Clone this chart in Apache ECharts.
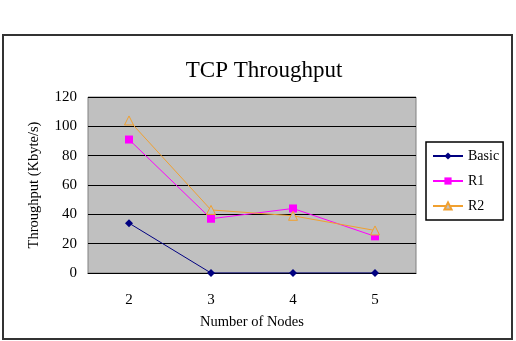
<!DOCTYPE html>
<html>
<head>
<meta charset="utf-8">
<script src="https://cdn.jsdelivr.net/npm/echarts@6/dist/echarts.min.js"></script>
<style>
  html, body { margin: 0; padding: 0; background: #fff; }
  #chart { width: 516px; height: 341px; }
</style>
</head>
<body>
<div id="chart"></div>
<script>
// 数据
const nodes = ['2', '3', '4', '5']
const basic = [34, 0, 0, 0]
const r1 = [91, 37, 44, 25]
const r2 = [104, 43, 39, 29]

const serif = '"Liberation Serif", "DejaVu Serif", serif'

const chart = echarts.init(document.getElementById('chart'))

chart.setOption({
  animation: false,
  backgroundColor: '#fff',
  textStyle: { fontFamily: serif, color: '#000' },
  title: {
    text: 'TCP Throughput',
    left: 259,
    top: 54,
    textAlign: 'center',
    textStyle: { fontFamily: serif, fontSize: 23, fontWeight: 'normal', color: '#000' }
  },
  // 外框
  graphic: [{
    type: 'rect',
    shape: { x: 3, y: 35, width: 509, height: 304 },
    style: { fill: 'none', stroke: '#333', lineWidth: 2 },
    z: 100
  }],
  legend: {
    orient: 'vertical',
    left: 426,
    top: 142,
    backgroundColor: '#fff',
    borderColor: '#000',
    borderWidth: 1.5,
    borderRadius: 0,
    padding: [7, 4, 7, 6],
    itemGap: 11,
    itemWidth: 30,
    itemHeight: 9,
    textStyle: { fontFamily: serif, fontSize: 14, color: '#000' },
    data: ['Basic', 'R1', 'R2']
  },
  grid: {
    left: 88,
    top: 97,
    right: 100,
    bottom: 68,
    show: true,
    backgroundColor: '#c0c0c0',
    borderColor: '#808080',
    borderWidth: 1
  },
  xAxis: {
    type: 'category',
    data: nodes,
    boundaryGap: true,
    name: 'Number of Nodes',
    nameLocation: 'middle',
    nameGap: 42,
    nameTextStyle: { fontFamily: serif, fontSize: 14.5, color: '#000' },
    axisLine: { lineStyle: { color: '#000', width: 1 } },
    axisTick: { inside: true, length: 5, alignWithLabel: false, lineStyle: { color: '#000' } },
    axisLabel: { margin: 20, fontFamily: serif, fontSize: 15, color: '#000' }
  },
  yAxis: {
    type: 'value',
    min: 0,
    max: 120,
    interval: 20,
    name: 'Throughput (Kbyte/s)',
    nameLocation: 'middle',
    nameGap: 46,
    nameTextStyle: { fontFamily: serif, fontSize: 14.5, color: '#000' },
    axisLine: { show: false },
    axisTick: { show: false },
    axisLabel: { margin: 11, fontFamily: serif, fontSize: 15, color: '#000' },
    splitLine: { show: true, lineStyle: { color: '#000', width: 1 } }
  },
  series: [
    {
      name: 'Basic',
      type: 'line',
      data: basic,
      symbol: 'diamond',
      symbolSize: 8,
      itemStyle: { color: '#000080' },
      lineStyle: { color: '#000080', width: 1 }
    },
    {
      name: 'R1',
      type: 'line',
      data: r1,
      symbol: 'rect',
      symbolSize: 8,
      itemStyle: { color: '#ff00ff' },
      lineStyle: { color: '#ff00ff', width: 1 }
    },
    {
      name: 'R2',
      type: 'line',
      data: r2,
      symbol: 'triangle',
      symbolSize: 9,
      showAllSymbol: true,
      itemStyle: { color: '#c0c0c0', borderColor: '#f0a030', borderWidth: 1 },
      lineStyle: { color: '#f0a030', width: 1 }
    }
  ]
})
</script>
</body>
</html>
